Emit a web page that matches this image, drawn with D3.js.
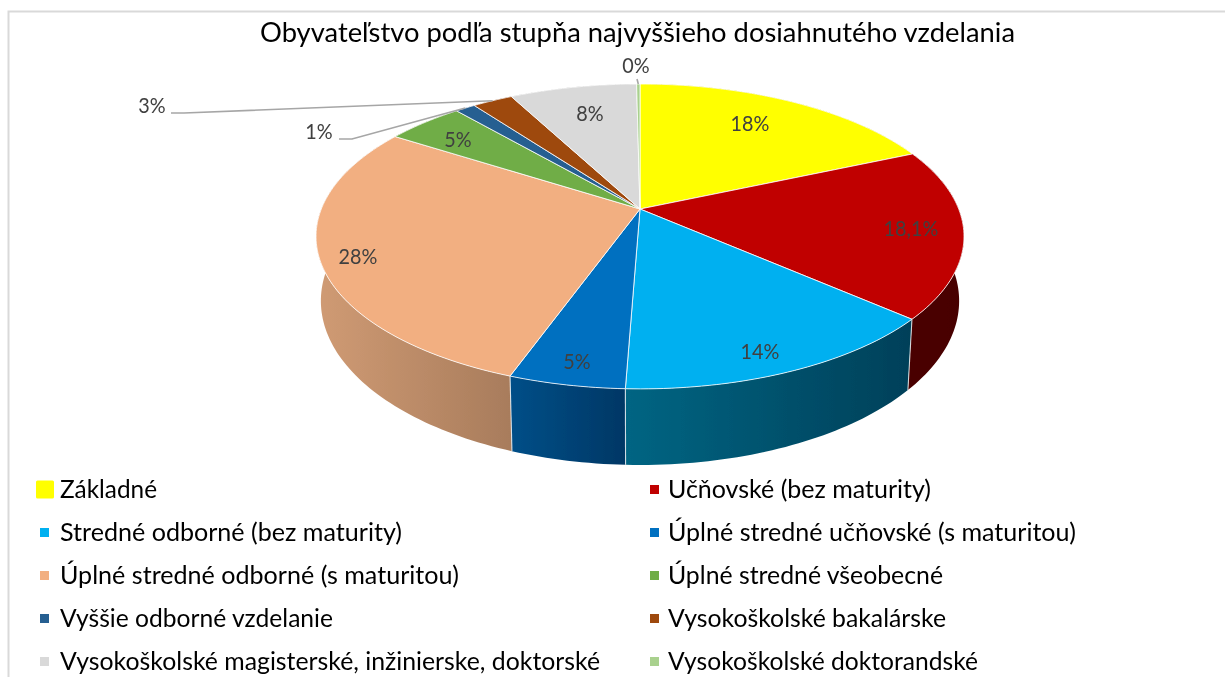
<!DOCTYPE html>
<html lang="sk">
<head>
<meta charset="utf-8">
<title>Obyvateľstvo podľa stupňa najvyššieho dosiahnutého vzdelania</title>
<script src="https://cdn.jsdelivr.net/npm/d3@7/dist/d3.min.js"></script>
<style>
html,body{margin:0;padding:0;background:#fff;overflow:hidden}
svg{display:block}
text{font-family:Lato,"Open Sans",sans-serif}
</style>
</head>
<body>
<svg id="chart" width="1225" height="677"></svg>
<script>
const chartTitle = "Obyvateľstvo podľa stupňa najvyššieho dosiahnutého vzdelania";
const categories = [
  "Základné",
  "Učňovské (bez maturity)",
  "Stredné odborné (bez maturity)",
  "Úplné stredné učňovské (s maturitou)",
  "Úplné stredné odborné (s maturitou)",
  "Úplné stredné všeobecné",
  "Vyššie odborné vzdelanie",
  "Vysokoškolské bakalárske",
  "Vysokoškolské magisterské, inžinierske, doktorské",
  "Vysokoškolské doktorandské"
];
// shares
const shares = [18.45, 18.0, 14.15, 4.9, 28.55, 4.6, 1.2, 2.4, 7.55, 0.2];
const valueLabels = ["18%", "18,1%", "14%", "5%", "28%", "5%", "1%", "3%", "8%", "0%"];
const colors = ["#ffff00", "#c00000", "#00b0f0", "#006fc0", "#f2af81", "#70ad47", "#255e91", "#9e480e", "#d9d9d9", "#a9d18e"];
const wallLeft  = ["#a0a000", "#4a0000", "#006583", "#004f88", "#d09b74", "#3f6a28", "#163a5a", "#5e2b08", "#888888", "#68824f"];
const wallRight = ["#a0a000", "#470000", "#004059", "#003765", "#a87c5c", "#3f6a28", "#163a5a", "#5e2b08", "#888888", "#68824f"];

const svg = d3.select("#chart");
const defs = svg.append("defs");
const addBlur = (id, sd) => defs.append("filter").attr("id", id)
  .attr("x", "-5%").attr("y", "-10%").attr("width", "110%").attr("height", "120%")
  .append("feGaussianBlur").attr("stdDeviation", sd);
addBlur("soft", 0.45);
addBlur("softText", 0.3);

// frame
svg.append("path").attr("d", "M8.5,677V11.5H1225").attr("fill", "none").attr("stroke", "#d9d9d9").attr("stroke-width", 2);

// title
svg.append("text").attr("x", 637.5).attr("y", 42).attr("text-anchor", "middle")
  .attr("font-size", 27).attr("fill", "#000").attr("textLength", 755).attr("lengthAdjust", "spacingAndGlyphs")
  .attr("filter", "url(#softText)").text(chartTitle);

// perspective projection of the pie's disc
const apex = {x: 640, y: 209};
const persp = 0.18, radiusX = 318.7, radiusY = 147.5;
const top3d = t => {
  const u = Math.sin(t), v = Math.cos(t), w = 1 + persp * v;
  return [apex.x + radiusX * u / w, apex.y - radiusY * v / w];
};
const bottom3d = t => {
  const [x, y] = top3d(t);
  return [apex.x + 0.985 * (x - apex.x), y + 62.4 + 0.076 * (y - apex.y)];
};
const line = d3.line();
const sample = (fn, a, b) => {
  const n = Math.max(2, Math.ceil((b - a) / 0.02));
  return d3.range(n + 1).map(i => fn(a + (b - a) * i / n));
};

const arcs = d3.pie().value(d => d).sort(null)(shares);
const pieG = svg.append("g").attr("filter", "url(#soft)");

// walls, sorted back to front
arcs.forEach((d, i) => {
  const g = defs.append("linearGradient").attr("id", "wall" + i);
  g.append("stop").attr("offset", 0).attr("stop-color", wallLeft[i]);
  g.append("stop").attr("offset", 1).attr("stop-color", wallRight[i]);
});
const wallOrder = arcs.map((d, i) => i)
  .sort((a, b) => d3.ascending(-Math.cos((arcs[a].startAngle + arcs[a].endAngle) / 2), -Math.cos((arcs[b].startAngle + arcs[b].endAngle) / 2)));
wallOrder.forEach(i => {
  const d = arcs[i];
  const upper = sample(top3d, d.startAngle, d.endAngle);
  const lower = sample(bottom3d, d.startAngle, d.endAngle).reverse();
  pieG.append("path").attr("d", line(upper.concat(lower)) + "Z")
    .attr("fill", `url(#wall${i})`).attr("stroke", "none");
});
// seams on the visible front wall
arcs.forEach(d => {
  const a = d.startAngle;
  if (Math.cos(a) < -0.3) {
    pieG.append("path").attr("d", line([top3d(a), bottom3d(a)]))
      .attr("stroke", "#fff").attr("stroke-opacity", 0.75).attr("stroke-width", 1.1).attr("fill", "none");
  }
});

// top face
arcs.forEach((d, i) => {
  const rim = sample(top3d, d.startAngle, d.endAngle);
  pieG.append("path").attr("d", line([[apex.x, apex.y]].concat(rim)) + "Z")
    .attr("fill", colors[i]).attr("stroke", "#fff").attr("stroke-opacity", 0.8)
    .attr("stroke-width", 1).attr("stroke-linejoin", "round");
});

// leader lines
const leaderColor = "#a6a6a6";
const leader = pts => svg.append("path").attr("d", line(pts)).attr("fill", "none")
  .attr("stroke", leaderColor).attr("stroke-width", 1.6).attr("filter", "url(#softText)");
const mid = i => (arcs[i].startAngle + arcs[i].endAngle) / 2;
leader([[171, 113], [184, 113], top3d(mid(7))]);
leader([[339, 139], [352, 139], top3d(mid(6))]);
leader([[637, 79], top3d(mid(9))]);

// value labels
const labelAnchors = [
  [750, 123], [911, 228], [760, 351], [577, 361], [358, 256],
  [458, 139], [319, 131], [152, 105], [590, 113], [636, 65]
];
valueLabels.forEach((t, i) => {
  const label = svg.append("text").attr("x", labelAnchors[i][0]).attr("y", labelAnchors[i][1])
    .attr("dy", "0.36em").attr("text-anchor", "middle")
    .attr("font-size", 22).attr("fill", "#404040").attr("filter", "url(#softText)").text(t);
  label.attr("textLength", label.node().getComputedTextLength() * 0.9).attr("lengthAdjust", "spacingAndGlyphs");
});

// legend
const rowY = d3.scalePoint().domain(d3.range(5)).range([490, 662]);
const textWidths = [97, 263, 342, 408, 399, 275, 273, 278, 540, 310];
categories.forEach((c, i) => {
  const col = i % 2, row = Math.floor(i / 2), y = rowY(row);
  const textX = col ? 668 : 60, sw = i === 0 ? 18 : 9;
  const swX = col ? 650 : (i === 0 ? 36 : 40);
  svg.append("rect").attr("x", swX).attr("y", y - sw / 2 - 0.5).attr("width", sw).attr("height", sw)
    .attr("rx", i === 0 ? 1.5 : 0).attr("fill", colors[i]).attr("filter", "url(#soft)");
  svg.append("text").attr("x", textX).attr("y", y + 8).attr("font-size", 24.5).attr("fill", "#000")
    .attr("textLength", textWidths[i]).attr("lengthAdjust", "spacingAndGlyphs")
    .attr("filter", "url(#softText)").text(c);
});
</script>
</body>
</html>
